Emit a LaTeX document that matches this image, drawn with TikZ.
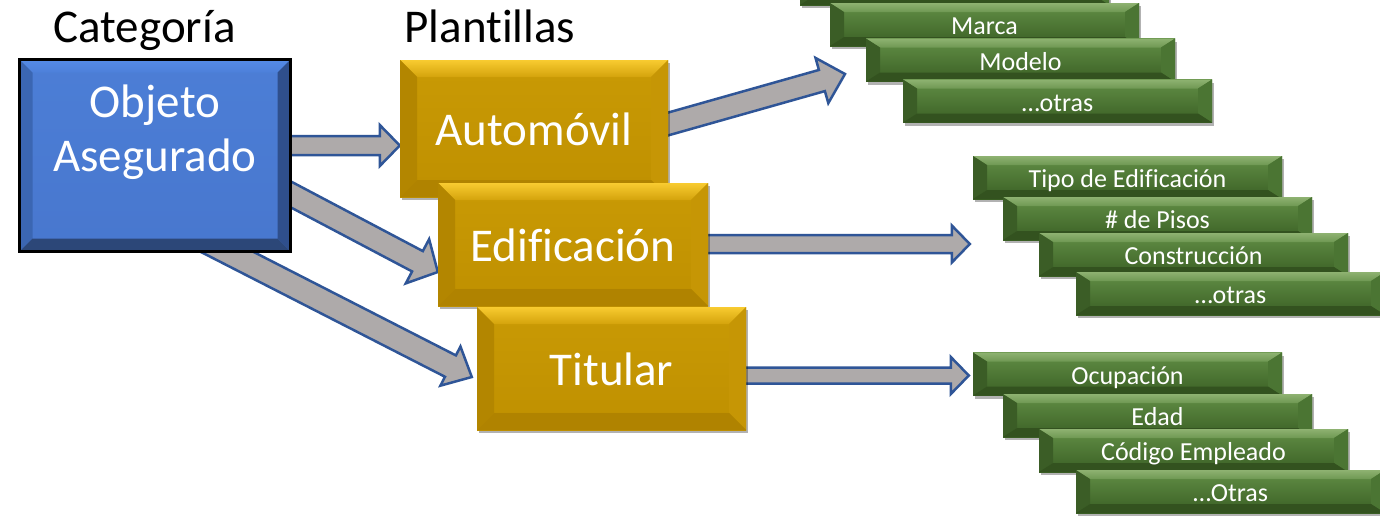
\documentclass[tikz,border=0pt]{standalone}
\usepackage{fontspec}
\setmainfont{Carlito}[Ligatures={NoCommon,NoRequired,NoContextual}]
\usetikzlibrary{calc,backgrounds,shadows}
\definecolor{arrgray}{HTML}{AEAAAA}
\definecolor{arrblue}{HTML}{2F5597}
% blue
\definecolor{bfacet}{HTML}{4C7ED6}
\definecolor{bfaceb}{HTML}{4877CE}
\definecolor{btopt}{HTML}{558BE6}
\definecolor{btopb}{HTML}{4D80DA}
\definecolor{bleft}{HTML}{3B66B2}
\definecolor{bright}{HTML}{2F4F8C}
\definecolor{bbot}{HTML}{2C4778}
% gold
\definecolor{gfacet}{HTML}{C99A05}
\definecolor{gfaceb}{HTML}{BF9000}
\definecolor{gtopt}{HTML}{F8CB30}
\definecolor{gtopb}{HTML}{D4A30C}
\definecolor{gleft}{HTML}{B38600}
\definecolor{gright}{HTML}{C69605}
\definecolor{gbot}{HTML}{B08300}
% green
\definecolor{vfacet}{HTML}{628F46}
\definecolor{vfaceb}{HTML}{3A5F24}
\definecolor{vtopt}{HTML}{8EB271}
\definecolor{vtopb}{HTML}{6F9853}
\definecolor{vleft}{HTML}{3B5D26}
\definecolor{vright}{HTML}{4B7533}
\definecolor{vbot}{HTML}{33521F}
\newcommand\fbig{\fontsize{47}{56}\selectfont}
\newcommand\fsmall{\fontsize{26}{31}\selectfont}
\tikzset{
  bevel/.style n args={9}{top color=#1, bottom color=#2,
    path picture={
      \path (path picture bounding box.north west) coordinate (pNW)
            (path picture bounding box.north east) coordinate (pNE)
            (path picture bounding box.south west) coordinate (pSW)
            (path picture bounding box.south east) coordinate (pSE);
      \shade[top color=#3, bottom color=#4] (pNW) -- (pNE) -- ([xshift=-#8,yshift=-#9]pNE) -- ([xshift=#8,yshift=-#9]pNW) -- cycle;
      \fill[#5] (pNW) -- ([xshift=#8,yshift=-#9]pNW) -- ([xshift=#8,yshift=#9]pSW) -- (pSW) -- cycle;
      \fill[#6] (pNE) -- ([xshift=-#8,yshift=-#9]pNE) -- ([xshift=-#8,yshift=#9]pSE) -- (pSE) -- cycle;
      \fill[#7] (pSW) -- ([xshift=#8,yshift=#9]pSW) -- ([xshift=-#8,yshift=#9]pSE) -- (pSE) -- cycle;
    }},
  softshadow/.style={drop shadow={shadow xshift=2pt, shadow yshift=-3pt, opacity=0.3, fill=black}},
  bluebox/.style={draw=black, line width=3pt, inner sep=0pt,
    minimum width=271pt, minimum height=192pt,
    bevel={bfacet}{bfaceb}{btopt}{btopb}{bleft}{bright}{bbot}{13pt}{13pt}},
  goldbox/.style={softshadow, inner sep=0pt, text=white, font=\fbig,
    text height=34pt, text depth=0pt,
    bevel={gfacet}{gfaceb}{gtopt}{gtopb}{gleft}{gright}{gbot}{17pt}{17pt}},
  greenbox/.style={softshadow, inner sep=0pt, text=white, font=\fsmall,
    minimum width=309pt, minimum height=43pt, text height=20pt, text depth=0pt,
    bevel={vfacet}{vfaceb}{vtopt}{vtopb}{vleft}{vright}{vbot}{14pt}{9pt}},
  bigtext/.style={font=\fbig, anchor=base, inner sep=0pt},
  blockarrow/.style={draw=arrblue, fill=arrgray, line width=2.5pt, line join=miter},
}
% #1 tail, #2 tip, #3 half shaft, #4 half head, #5 head length
\newcommand\blockarr[5]{%
  \coordinate (#1-h) at ($(#2)!#5!(#1)$);
  \draw[blockarrow] ($(#1)!#3!90:(#2)$) -- ($(#1-h)!#3!90:(#2)$) -- ($(#1-h)!#4!90:(#2)$)
    -- (#2) -- ($(#1-h)!#4!-90:(#2)$) -- ($(#1-h)!#3!-90:(#2)$) -- ($(#1)!#3!-90:(#2)$) -- cycle;
}
\begin{document}
\begin{tikzpicture}[x=1pt, y=-1pt]
\useasboundingbox (0,0) rectangle (1380,515);
% titles
\node[bigtext] (cat) at (144.5,42) {Categoría};
\node[bigtext] (pla) at (490,42) {Plant\kern0pt illas};
% category
\node[bluebox] (obj) at (155,155.5) {};
\node[bigtext, text=white] (objt1) at (155,117) {Objeto};
\node[bigtext, text=white] (objt2) at (155,171) {Asegurado};
% templates
\node[goldbox, minimum width=268pt, minimum height=137pt] (auto) at (534,128.5) {Automóvil};
\node[goldbox, minimum width=270pt, minimum height=123pt] (edif) at (573,244.5) {Edif\kern0pt icación};
\node[goldbox, minimum width=269pt, minimum height=123pt] (tit) at (611.5,368.5) {Tit\kern0pt ular};
% automóvil fields
\node[greenbox] (g0) at (954.5,-16.5) {};
\node[greenbox] (g1) at (984.5,24.5) {Marca};
\node[greenbox] (g2) at (1020.5,60) {Modelo};
\node[greenbox] (g3) at (1057.5,101) {…otras};
% edificación fields
\node[greenbox] (e1) at (1127.5,177.5) {Tipo de Edif\kern0pt icación};
\node[greenbox] (e2) at (1157.5,218.5) {\# de Pisos};
\node[greenbox] (e3) at (1193.5,254.5) {Construcción};
\node[greenbox] (e4) at (1230.5,293.5) {…otras};
% titular fields
\node[greenbox] (t1) at (1127.5,374) {Ocupación};
\node[greenbox] (t2) at (1157.5,415.5) {Edad};
\node[greenbox] (t3) at (1193.5,450.5) {Código Empleado};
\node[greenbox] (t4) at (1230.5,491.5) {…Otras};
% arrows
\begin{scope}[on background layer]
\fill[white] (0,0) rectangle (1380,515);
\coordinate (a1s) at ($(obj.east |- 0,145.5)+(-6,0)$);
\coordinate (a1e) at (auto.west |- 0,145.5);
\coordinate (a2s) at (280,188.7);
\coordinate (a2e) at (edif.west |- 0,272);
\coordinate (a3s) at (200,238);
\coordinate (a3e) at ($(tit.west |- 0,377)+(-5,0)$);
\coordinate (a4s) at (655,127.7);
\coordinate (a4e) at (845,74);
\coordinate (a5s) at ($(edif.east |- 0,244)+(-8,0)$);
\coordinate (a5e) at ($(e1.west |- 0,244)+(-3,0)$);
\coordinate (a6s) at ($(tit.east |- 0,375.5)+(-8,0)$);
\coordinate (a6e) at ($(t1.west |- 0,375.5)+(-4,0)$);
\blockarr{a1s}{a1e}{9.5pt}{20.5pt}{20pt}
\blockarr{a2s}{a2e}{11.5pt}{25pt}{23pt}
\blockarr{a3s}{a3e}{12pt}{22pt}{24pt}
\blockarr{a4s}{a4e}{11pt}{23.5pt}{24pt}
\blockarr{a5s}{a5e}{9pt}{18.5pt}{18pt}
\blockarr{a6s}{a6e}{8pt}{18.5pt}{18pt}
\end{scope}
\end{tikzpicture}
\end{document}
